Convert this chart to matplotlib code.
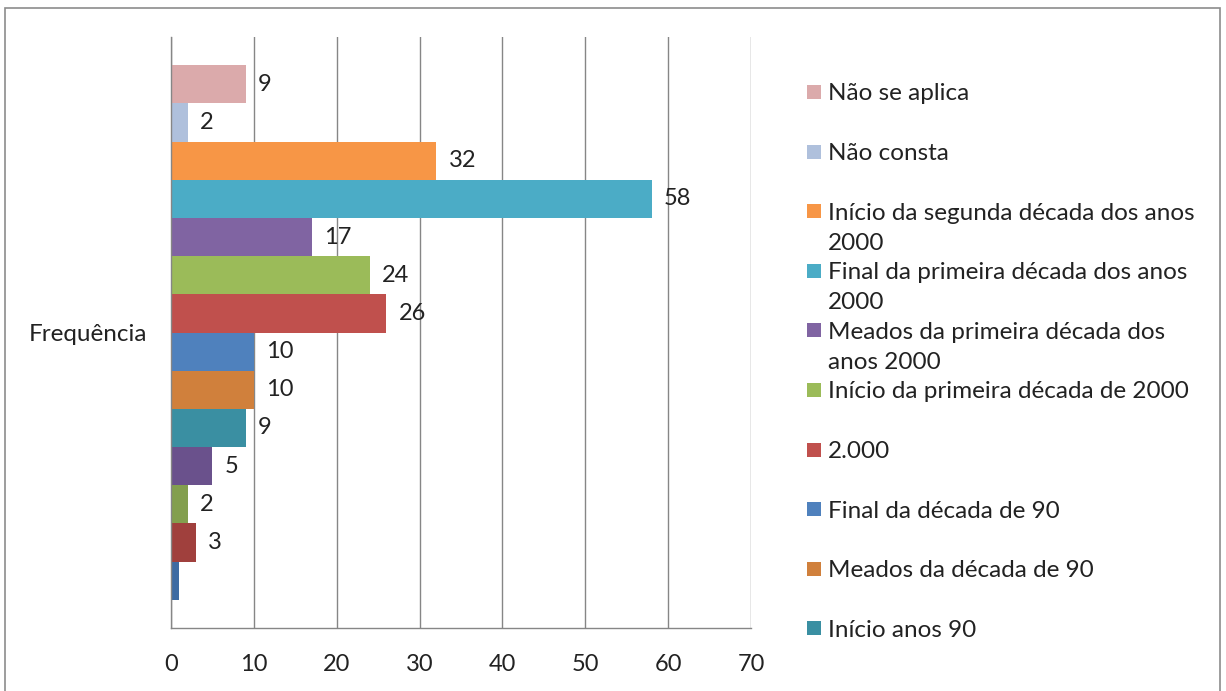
import matplotlib
matplotlib.use("Agg")
import matplotlib.pyplot as plt
from matplotlib.patches import Rectangle

plt.rcParams['font.family'] = ['Lato', 'DejaVu Sans']

category = "Frequência"
# series from top bar to bottom bar
series_names = [
    "Não se aplica",
    "Não consta",
    "Início da segunda década dos anos\n2000",
    "Final da primeira década dos anos\n2000",
    "Meados da primeira década dos\nanos 2000",
    "Início da primeira década de 2000",
    "2.000",
    "Final da década de 90",
    "Meados da década de 90",
    "Início anos 90",
    "Final da década de 80",
    "Meados da década de 80",
    "Início anos 80",
    "Anos 70",
]
values = [9, 2, 32, 58, 17, 24, 26, 10, 10, 9, 5, 2, 3, 1]
show_label = [True] * 13 + [False]
colors = ["#DBAAAB", "#AFC0DC", "#F79646", "#4BACC6", "#8064A2", "#9BBB59",
          "#C0504D", "#4F81BD", "#D0803C", "#3A8FA2", "#6A518C", "#839F4E",
          "#A0403D", "#3E6BA2"]
legend_count = 10
xticks = [0, 10, 20, 30, 40, 50, 60, 70]

W, H = 1226, 691
fig = plt.figure(figsize=(W / 100, H / 100), dpi=100)

# outer border
fig.patches.append(Rectangle((5 / W, -0.01), 1215 / W, 1 - 8 / H + 0.01,
                             transform=fig.transFigure, fill=False,
                             edgecolor="#8C8C8C", lw=1.2))

# clipped title remnant (cut off at the top edge, as in the source)
fig.text(140 / W, 1 + 0.5 / H, "Gráfico 5 – Ano de conclusão do doutorado dos docentes.",
         fontsize=21, va="baseline", ha="left", color="#222222")

ax = fig.add_axes([171 / W, 1 - 628 / H, 580 / W, (628 - 37) / H])
n = len(values)
ypos = [n - 1 - i for i in range(n)]
ax.barh(ypos, values, height=1.0, color=colors, edgecolor="none", zorder=3)
for y, v, s in zip(ypos, values, show_label):
    if s:
        ax.annotate(str(v), (v, y), xytext=(9, 0), textcoords="offset points",
                    va="center", ha="left", fontsize=17, color="#222222")

ax.set_xlim(0, 70)
ax.set_ylim(-1.24, n - 1 + 1.24)
ax.set_xticks(xticks)
ax.set_xticklabels([str(t) for t in xticks], fontsize=17, color="#222222")
ax.set_yticks([(n - 1) / 2])
ax.set_yticklabels([category], fontsize=17.5, color="#222222")
ax.tick_params(axis="x", length=0, pad=19)
ax.tick_params(axis="y", length=0, pad=17)
ax.grid(axis="x", color="#868686", lw=1, zorder=1)
for s in ["top", "right"]:
    ax.spines[s].set_visible(False)
for s in ["left", "bottom"]:
    ax.spines[s].set_color("#868686")
    ax.spines[s].set_linewidth(1)
    ax.spines[s].set_zorder(4)

# legend (manual, evenly spaced slots, as in the source)
slot0, slot_step, line_step = 92, 59.6, 30
for i in range(legend_count):
    yc = slot0 + i * slot_step
    fig.patches.append(Rectangle((807 / W, 1 - (yc + 7) / H), 14 / W, 14 / H,
                                 transform=fig.transFigure, facecolor=colors[i],
                                 edgecolor="none"))
    for k, line in enumerate(series_names[i].split("\n")):
        fig.text(828 / W, 1 - (yc + k * line_step) / H, line, fontsize=17.5,
                 va="center_baseline", ha="left", color="#222222")

fig.savefig("out.png", dpi=100)
